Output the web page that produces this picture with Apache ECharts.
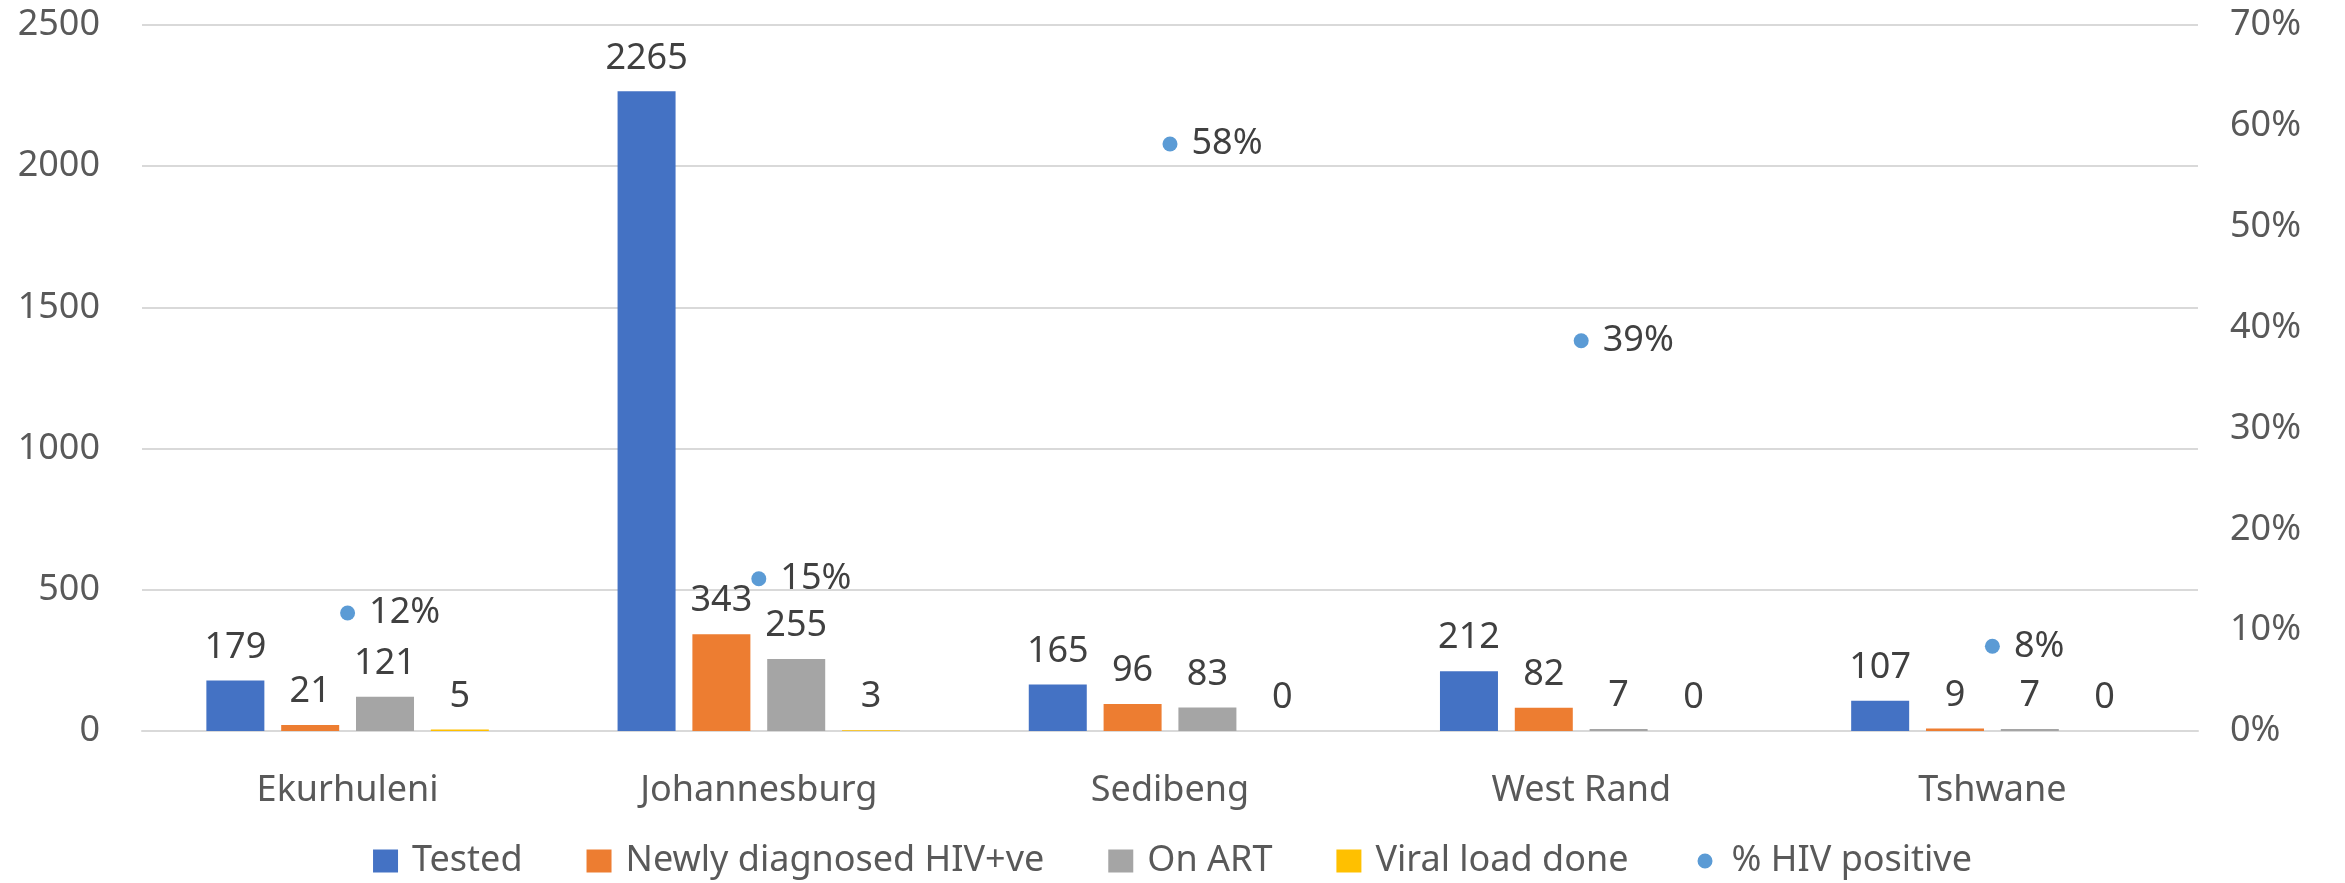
<!DOCTYPE html>
<html>
<head>
<meta charset="utf-8">
<script src="https://cdn.jsdelivr.net/npm/echarts@6/dist/echarts.min.js"></script>
<style>
  html, body { margin: 0; padding: 0; background: #fff; }
  #view { width: 2345px; height: 883px; }
</style>
</head>
<body>
<div id="view"></div>
<script>
var myCharts = echarts.init(document.getElementById("view"));

/* 基础数据 */
var districts = ['Ekurhuleni', 'Johannesburg', 'Sedibeng', 'West Rand', 'Tshwane'];
var tested = [179, 2265, 165, 212, 107];
var newlyDiagnosed = [21, 343, 96, 82, 9];
var onArt = [121, 255, 83, 7, 7];
var viralLoad = [5, 3, 0, 0, 0];
var hivPositive = [0.117, 0.151, 0.582, 0.387, 0.084];   // 右轴 %
var leftTicks = [0, 500, 1000, 1500, 2000, 2500];
var rightTicks = [0, 0.1, 0.2, 0.3, 0.4, 0.5, 0.6, 0.7];

var font = 'Noto Sans';
var axisGrey = '#595959';
var labelGrey = '#404040';

function pct(v) {
    return Math.round(v * 100) + '%';
}

function barSeries(name, data, color) {
    return {
        name: name,
        type: 'bar',
        barWidth: 58,
        barGap: '29%',
        data: data,
        itemStyle: { color: color },
        label: {
            show: true,
            position: 'top',
            distance: 15,
            color: labelGrey,
            fontFamily: font,
            fontSize: 36
        }
    };
}

// 图例圆点：小圆，放在 25x23 的框里
var dotIcon = 'path://M0,0L0.01,0M25,23L25.01,23M5,11.5a7.5,7.5 0 1,0 15,0a7.5,7.5 0 1,0 -15,0';

option = {
    animation: false,
    grid: { left: 142, right: 147, top: 25, bottom: 152 },
    legend: {
        top: 838,
        left: 'center',
        itemWidth: 25,
        itemHeight: 23,
        itemGap: 64,
        textStyle: { color: axisGrey, fontFamily: font, fontSize: 36, padding: [0, 0, 0, 9] },
        data: [
            { name: 'Tested', icon: 'rect' },
            { name: 'Newly diagnosed HIV+ve', icon: 'rect' },
            { name: 'On ART', icon: 'rect' },
            { name: 'Viral load done', icon: 'rect' },
            { name: '% HIV positive', icon: dotIcon }
        ]
    },
    xAxis: [{
        type: 'category',
        data: districts,
        axisLine: { lineStyle: { color: '#d9d9d9', width: 2 } },
        axisTick: { show: false },
        axisLabel: { color: axisGrey, fontFamily: font, fontSize: 36, margin: 42 }
    }],
    yAxis: [{
        type: 'value',
        min: leftTicks[0],
        max: leftTicks[leftTicks.length - 1],
        interval: 500,
        axisLine: { show: false },
        axisTick: { show: false },
        splitLine: { lineStyle: { color: '#d9d9d9', width: 2 } },
        axisLabel: {
            color: axisGrey, fontFamily: font, fontSize: 36, margin: 42,
            formatter: function (v) { return String(v); }
        }
    }, {
        type: 'value',
        position: 'right',
        min: rightTicks[0],
        max: rightTicks[rightTicks.length - 1],
        interval: 0.1,
        axisLine: { show: false },
        axisTick: { show: false },
        splitLine: { show: false },
        axisLabel: {
            color: axisGrey, fontFamily: font, fontSize: 36, margin: 32,
            formatter: function (v) { return pct(v); }
        }
    }],
    series: [
        barSeries('Tested', tested, '#4472C4'),
        barSeries('Newly diagnosed HIV+ve', newlyDiagnosed, '#ED7D31'),
        barSeries('On ART', onArt, '#A5A5A5'),
        barSeries('Viral load done', viralLoad, '#FFC000'),
        {
            name: '% HIV positive',
            type: 'scatter',
            yAxisIndex: 1,
            symbol: 'circle',
            symbolSize: 15,
            data: hivPositive,
            itemStyle: { color: '#5B9BD5', opacity: 1 },
            label: {
                show: true,
                position: 'right',
                distance: 14,
                color: labelGrey,
                fontFamily: font,
                fontSize: 36,
                formatter: function (p) { return pct(p.value); }
            }
        }
    ]
};

myCharts.setOption(option);
</script>
</body>
</html>
